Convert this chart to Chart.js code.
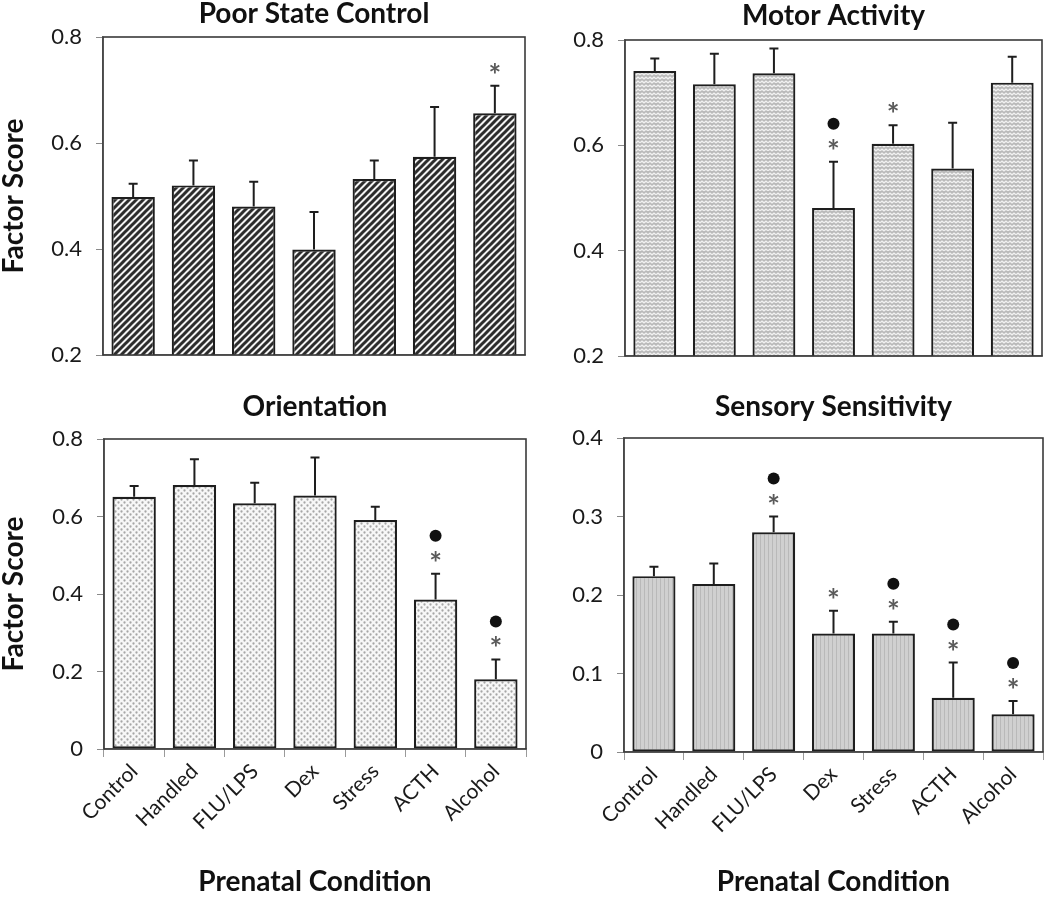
<!DOCTYPE html>
<html>
<head>
<meta charset="utf-8">
<script src="https://cdn.jsdelivr.net/npm/chart.js@4.4.1/dist/chart.umd.min.js"></script>
<style>
  html, body { margin: 0; padding: 0; background: #ffffff; }
  #wrap { position: relative; width: 1050px; height: 897px; }
  #wrap canvas { position: absolute; left: 0; top: 0; }
</style>
</head>
<body>
<div id="wrap">
  <canvas id="c1" width="1050" height="897"></canvas>
  <canvas id="c2" width="1050" height="897"></canvas>
  <canvas id="c3" width="1050" height="897"></canvas>
  <canvas id="c4" width="1050" height="897"></canvas>
</div>
<script>
// ---------------- DATA ----------------
const categories = ["Control", "Handled", "FLU/LPS", "Dex", "Stress", "ACTH", "Alcohol"];

const pscMean   = [0.498, 0.520, 0.480, 0.399, 0.532, 0.574, 0.656];
const pscErr    = [0.025, 0.047, 0.047, 0.071, 0.035, 0.094, 0.052];
const pscStar   = [0, 0, 0, 0, 0, 0, 1];
const pscDot    = [0, 0, 0, 0, 0, 0, 0];

const motorMean = [0.741, 0.716, 0.737, 0.481, 0.603, 0.556, 0.719];
const motorErr  = [0.024, 0.058, 0.047, 0.088, 0.035, 0.087, 0.049];
const motorStar = [0, 0, 0, 1, 1, 0, 0];
const motorDot  = [0, 0, 0, 1, 0, 0, 0];

const orientMean = [0.651, 0.681, 0.634, 0.654, 0.591, 0.386, 0.180];
const orientErr  = [0.028, 0.067, 0.053, 0.098, 0.034, 0.066, 0.051];
const orientStar = [0, 0, 0, 0, 0, 1, 1];
const orientDot  = [0, 0, 0, 0, 0, 1, 1];

const sensMean = [0.224, 0.214, 0.280, 0.151, 0.151, 0.069, 0.048];
const sensErr  = [0.012, 0.026, 0.020, 0.029, 0.015, 0.045, 0.017];
const sensStar = [0, 0, 1, 1, 1, 1, 1];
const sensDot  = [0, 0, 1, 0, 1, 1, 1];

const ticksTop     = [0.2, 0.4, 0.6, 0.8];
const ticksOrient  = [0, 0.2, 0.4, 0.6, 0.8];
const ticksSens    = [0, 0.1, 0.2, 0.3, 0.4];

const titles = ["Poor State Control", "Motor Activity", "Orientation", "Sensory Sensitivity"];
const yTitle = "Factor Score";
const xTitle = "Prenatal Condition";

// ---------------- PATTERNS ----------------
function makePattern(type) {
  const c = document.createElement('canvas');
  const g = c.getContext('2d');
  if (type === 'diag') {
    const p = 7;
    c.width = p; c.height = p;
    g.fillStyle = '#f2f2f2'; g.fillRect(0, 0, p, p);
    g.strokeStyle = '#2c2c2c'; g.lineWidth = 3;
    g.beginPath();
    g.moveTo(-p, p); g.lineTo(p, -p);
    g.moveTo(0, p); g.lineTo(p, 0);
    g.moveTo(0, 2 * p); g.lineTo(2 * p, 0);
    g.stroke();
  } else if (type === 'wave') {
    c.width = 8; c.height = 4;
    g.fillStyle = '#b9b9b9'; g.fillRect(0, 0, 8, 4);
    g.strokeStyle = '#f2f2f2'; g.lineWidth = 1.3;
    g.beginPath();
    g.moveTo(0, 2.8); g.lineTo(2, 1.2); g.lineTo(4, 2.8); g.lineTo(6, 1.2); g.lineTo(8, 2.8);
    g.stroke();
  } else if (type === 'dots') {
    c.width = 6; c.height = 6;
    g.fillStyle = '#f7f7f7'; g.fillRect(0, 0, 6, 6);
    g.fillStyle = '#a6a6a6';
    g.beginPath(); g.arc(1.5, 1.5, 1.15, 0, Math.PI * 2); g.fill();
    g.beginPath(); g.arc(4.5, 4.5, 1.15, 0, Math.PI * 2); g.fill();
  } else {
    c.width = 4; c.height = 4;
    g.fillStyle = '#d0d0d0'; g.fillRect(0, 0, 4, 4);
    g.fillStyle = '#b9b9b9'; g.fillRect(0, 0, 1, 4);
  }
  return g.createPattern(c, 'repeat');
}

// ---------------- PLUGINS ----------------
const decorPlugin = {
  id: 'decor',
  afterDatasetsDraw(chart, args, opts) {
    const ctx = chart.ctx;
    const meta = chart.getDatasetMeta(0);
    const ys = chart.scales.y;
    ctx.save();
    meta.data.forEach((bar, i) => {
      const top = opts.mean[i] + opts.err[i];
      const yE = ys.getPixelForValue(top);
      const x = bar.x;
      ctx.strokeStyle = '#1e1e1e';
      ctx.lineWidth = 2;
      ctx.beginPath();
      ctx.moveTo(x, bar.y); ctx.lineTo(x, yE);
      ctx.moveTo(x - 4.5, yE); ctx.lineTo(x + 4.5, yE);
      ctx.stroke();
      if (opts.star[i]) {
        ctx.fillStyle = '#5a5a5a';
        ctx.font = 'bold 30px Lato';
        ctx.textAlign = 'center';
        ctx.textBaseline = 'alphabetic';
        ctx.fillText('*', x, yE - 17 + 17);
      }
      if (opts.dot[i]) {
        ctx.fillStyle = '#111111';
        ctx.beginPath();
        ctx.arc(x, yE - 38, 6, 0, Math.PI * 2);
        ctx.fill();
      }
    });
    ctx.restore();
  },
  afterDraw(chart, args, opts) {
    const a = chart.chartArea;
    const ctx = chart.ctx;
    ctx.save();
    ctx.strokeStyle = '#3a3a3a';
    ctx.lineWidth = 1.6;
    ctx.strokeRect(a.left, a.top, a.right - a.left, a.bottom - a.top);
    ctx.fillStyle = '#111111';
    ctx.font = 'bold 28px Lato';
    ctx.textAlign = 'center';
    ctx.textBaseline = 'alphabetic';
    ctx.fillText(opts.title, (a.left + a.right) / 2, a.top - opts.gap);
    ctx.restore();
  }
};

function makeChart(id, cfg) {
  const W = 1050, H = 897;
  const yW = cfg.yTitle ? (cfg.left) : 60;
  const padLeft = cfg.left - yW;
  const xH = cfg.xTitle ? (H - cfg.bottom) : 4;
  const padBottom = H - cfg.bottom - xH;
  return new Chart(document.getElementById(id), {
    type: 'bar',
    data: {
      labels: categories,
      datasets: [{
        data: cfg.mean,
        backgroundColor: makePattern(cfg.pattern),
        borderColor: '#1e1e1e',
        borderWidth: 2.2,
        borderSkipped: false,
        barPercentage: 0.72,
        categoryPercentage: 1.0
      }]
    },
    options: {
      responsive: false,
      animation: false,
      devicePixelRatio: 1,
      layout: { padding: { left: padLeft, top: cfg.top, right: W - cfg.right, bottom: padBottom } },
      plugins: {
        legend: { display: false },
        tooltip: { enabled: false },
        decor: { mean: cfg.mean, err: cfg.err, star: cfg.star, dot: cfg.dot, title: cfg.title, gap: cfg.gap }
      },
      scales: {
        x: {
          grid: { display: true, drawOnChartArea: false, drawTicks: !!cfg.xTitle, tickLength: 8, color: '#9a9a9a', offset: true },
          border: { display: true, color: '#8a8a8a', width: 1.5 },
          ticks: {
            display: !!cfg.xTitle,
            minRotation: 45, maxRotation: 45,
            color: '#1a1a1a',
            font: { family: 'Lato', size: 21 },
            padding: 2
          },
          title: {
            display: !!cfg.xTitle,
            text: xTitle,
            color: '#111111',
            font: { family: 'Lato', size: 28, weight: 'bold', lineHeight: 1.1 },
            padding: { top: 0, bottom: 0 }
          },
          afterFit(s) { s.height = xH; }
        },
        y: {
          min: cfg.ticks[0],
          max: cfg.ticks[cfg.ticks.length - 1],
          afterBuildTicks(s) { s.ticks = cfg.ticks.map(v => ({ value: v })); },
          grid: { display: true, drawOnChartArea: false, drawTicks: true, tickLength: 7, color: '#8a8a8a' },
          border: { display: true, color: '#8a8a8a', width: 1.5 },
          ticks: {
            color: '#1a1a1a',
            font: { family: 'Lato', size: 22 },
            padding: 14,
            callback: v => (v === 0 ? '0' : Number(v).toFixed(1))
          },
          title: {
            display: !!cfg.yTitle,
            text: yTitle,
            color: '#111111',
            font: { family: 'Lato', size: 28, weight: 'bold', lineHeight: 1.0 },
            padding: { top: 0, bottom: 0 }
          },
          afterFit(s) { s.width = yW; }
        }
      }
    },
    plugins: [decorPlugin]
  });
}

makeChart('c1', { left: 103, top: 37, right: 525, bottom: 355, mean: pscMean, err: pscErr, star: pscStar, dot: pscDot,
  ticks: ticksTop, pattern: 'diag', title: titles[0], gap: 14, yTitle: true, xTitle: false });
makeChart('c2', { left: 625, top: 40, right: 1042, bottom: 356, mean: motorMean, err: motorErr, star: motorStar, dot: motorDot,
  ticks: ticksTop, pattern: 'wave', title: titles[1], gap: 15, yTitle: false, xTitle: false });
makeChart('c3', { left: 104, top: 439, right: 526, bottom: 749, mean: orientMean, err: orientErr, star: orientStar, dot: orientDot,
  ticks: ticksOrient, pattern: 'dots', title: titles[2], gap: 23, yTitle: true, xTitle: true });
makeChart('c4', { left: 624, top: 438, right: 1043, bottom: 752, mean: sensMean, err: sensErr, star: sensStar, dot: sensDot,
  ticks: ticksSens, pattern: 'vstripe', title: titles[3], gap: 22, yTitle: false, xTitle: true });
</script>
</body>
</html>
